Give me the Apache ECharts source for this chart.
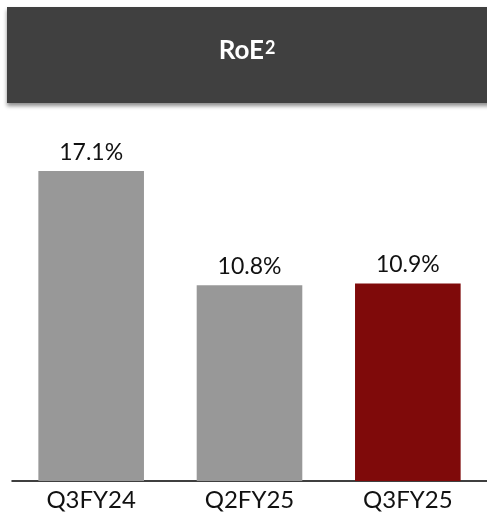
<!DOCTYPE html>
<html><head><meta charset="utf-8">
<script src="https://cdn.jsdelivr.net/npm/echarts@6/dist/echarts.min.js"></script>
<style>html,body{margin:0;padding:0;background:#fff}#c{width:487px;height:526px}</style>
</head><body><div id="c"></div>
<script>
const categories = ['Q3FY24', 'Q2FY25', 'Q3FY25'];
const values = [17.1, 10.8, 10.9];
const barColors = ['#989898', '#989898', '#7F0A0A'];
const titleMain = 'RoE';
const titleSup = '2';

const chart = echarts.init(document.getElementById('c'), null, {renderer: 'canvas'});
const FONT = 'Lato, "Open Sans", sans-serif';
chart.setOption({
  animation: false,
  graphic: [{
    type: 'rect',
    shape: {x: 7, y: 7, width: 490, height: 96},
    style: {fill: '#404040', shadowBlur: 4, shadowOffsetY: 3, shadowColor: 'rgba(0,0,0,0.45)'},
    z: 1
  }, {
    type: 'text', x: 264, y: 64, z: 10,
    style: {text: titleMain, fill: '#fff', fontFamily: 'Lato', fontWeight: 'bold', fontSize: 26, align: 'right', verticalAlign: 'bottom'}
  }, {
    type: 'text', x: 265, y: 39, z: 10,
    style: {text: titleSup, fill: '#fff', fontFamily: 'Lato', fontWeight: 'bold', fontSize: 18, align: 'left', verticalAlign: 'top'}
  }],
  grid: {left: 12, right: -1, top: 118.4, bottom: 45, containLabel: false},
  xAxis: {
    type: 'category', data: categories,
    axisLine: {show: true, lineStyle: {color: '#000', width: 1.5}},
    axisTick: {show: false},
    axisLabel: {color: '#111', fontFamily: FONT, fontSize: 24, margin: 7}
  },
  yAxis: {type: 'value', min: 0, max: 20, show: false, splitLine: {show: false}},
  series: [{
    type: 'bar', barWidth: '66.7%',
    data: values.map((v, i) => ({value: v, itemStyle: {color: barColors[i]}})),
    label: {show: true, position: 'top', distance: 7, color: '#111', fontFamily: FONT, fontSize: 23,
      formatter: p => p.value.toFixed(1) + '%'}
  }]
});
</script></body></html>
